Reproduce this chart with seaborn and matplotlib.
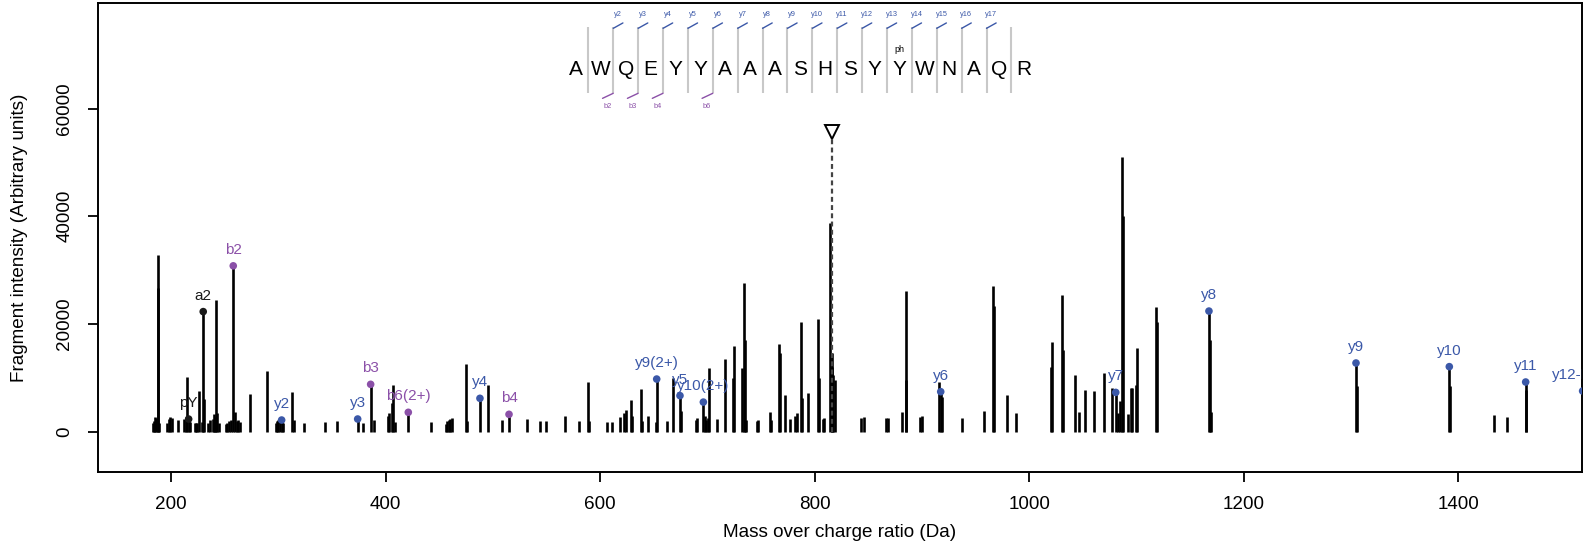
import matplotlib
matplotlib.use("Agg")
import matplotlib.pyplot as plt
import matplotlib.transforms as mtransforms
import numpy as np
import pandas as pd
import seaborn as sns

# ---------------- data ----------------
peak_mz = [182.8, 184.0, 185.2, 186.3, 187.4, 188.0, 189.0, 196.4, 197.8, 199.2, 200.7,
           206.6, 211.9, 213.5, 215.0, 217.5, 222.0, 223.2, 224.4, 225.8, 228.5, 230.9,
           234.0, 236.5, 239.0, 240.2, 241.0, 241.9, 243.2, 244.3, 251.0, 252.2, 253.5,
           255.5, 259.6, 261.0, 262.2, 264.5, 273.8, 289.0, 297.6, 298.8, 300.0, 301.2,
           304.5, 313.1, 314.3, 324.0, 343.4, 355.0, 379.1, 389.2, 402.5, 403.4, 405.6,
           407.1, 408.5, 441.9, 456.0, 457.5, 459.0, 460.3, 461.5, 474.9, 476.2, 495.1,
           508.2, 531.5, 543.9, 549.2, 567.2, 580.2, 588.3, 589.3, 606.0, 610.7, 618.5,
           622.5, 624.1, 628.4, 629.5, 638.1, 639.4, 644.3, 652.0, 662.0, 668.2, 675.5,
           689.0, 690.5, 697.5, 699.0, 700.2, 701.4, 709.2, 716.4, 723.5, 724.7, 731.9,
           734.1, 735.0, 736.0, 745.9, 747.2, 758.3, 759.2, 767.0, 767.8, 772.3, 777.0,
           781.6, 783.2, 787.2, 788.0, 794.0, 802.8, 803.6, 807.5, 808.7, 814.3, 815.8,
           816.6, 817.4, 818.9, 843.2, 846.0, 866.2, 868.7, 881.1, 884.8, 885.5, 898.2,
           900.3, 915.9, 918.4, 937.1, 957.9, 966.0, 966.8, 979.2, 987.4, 1020.6, 1021.2,
           1030.9, 1031.8, 1042.7, 1046.4, 1052.0, 1060.4, 1070.1, 1077.5, 1083.1, 1084.7,
           1086.2, 1087.0, 1092.5, 1094.6, 1095.5, 1099.5, 1100.8, 1118.2, 1119.0, 1168.4,
           1169.2, 1305.5, 1392.6, 1433.7, 1445.3, 1463.6]
peak_int = [1560, 2000, 2800, 2500, 32800, 26700, 1700, 1700, 2300, 2800, 2600,
            2200, 2450, 2800, 10200, 1800, 1600, 1700, 1700, 7600, 1800, 6100,
            1700, 2200, 2300, 3200, 2800, 24400, 3400, 1700, 1500, 1700, 2000,
            2200, 3700, 1900, 2100, 1800, 7000, 11300, 1700, 2000, 2200, 2300,
            1700, 7300, 2200, 1700, 1800, 2000, 1700, 2100, 2900, 3500, 5300,
            8700, 1800, 1750, 1500, 2000, 2200, 2400, 2500, 12500, 2000, 8700,
            2200, 2300, 2000, 2000, 3000, 2000, 9200, 2000, 1860, 1860, 2670,
            3400, 4000, 5900, 3000, 7900, 1900, 3000, 1800, 1900, 9900, 3900,
            2100, 2500, 3000, 2200, 2500, 11800, 2300, 13500, 10000, 15900, 11800,
            27600, 17000, 2200, 1900, 2200, 3600, 2200, 16200, 14600, 6800, 2400,
            3000, 3500, 20300, 6200, 7100, 20900, 9900, 2400, 2600, 38800, 14600,
            12000, 10500, 9600, 2600, 2800, 2600, 2600, 3700, 26200, 9600, 2800,
            3000, 9200, 6500, 2600, 3900, 27100, 23300, 6900, 3400, 12000, 16700,
            25400, 15200, 10500, 3700, 7700, 7600, 10900, 8200, 3400, 5700,
            51100, 40000, 3300, 8100, 8100, 8700, 15500, 23200, 20300, 17000,
            3700, 8400, 8400, 3100, 2800, 7700]

ion_label = ["pY", "a2", "b2", "y2", "y3", "b3", "b6(2+)", "y4", "b4", "y9(2+)", "y5",
             "y10(2+)", "y6", "y7", "y8", "y9", "y10", "y11", "y12-H2O"]
ion_mz = [216.3, 229.9, 257.9, 303.0, 373.9, 386.0, 421.1, 487.9, 515.0, 652.7, 674.4,
          696.2, 917.5, 1080.7, 1167.6, 1304.7, 1391.7, 1462.9, 1516.0]
ion_int = [2350, 22300, 30800, 2170, 2360, 8800, 3600, 6200, 3230, 9780, 6700,
           5500, 7430, 7300, 22400, 12760, 12080, 9230, 7560]
ion_kind = ["other", "other", "b", "y", "y", "b", "b", "y", "b", "y", "y",
            "y", "y", "y", "y", "y", "y", "y", "y"]

sequence = list("AWQEYYAAASHSYYWNAQR")
y_ion_sites = list(range(2, 18))       # separator index (after residue n)
b_ion_sites = [2, 3, 4, 6]
phospho_site = 13                       # 0-based residue index

precursor_mz = 816.0
precursor_int = 55650

x_ticks = [200, 400, 600, 800, 1000, 1200, 1400]
y_ticks = [0, 20000, 40000, 60000]

# ---------------- style ----------------
BLUE = "#3B58A8"
PURPLE = "#8B50A8"
palette = {"y": BLUE, "b": PURPLE, "other": "#1a1a1a"}

sns.set_theme(style="ticks")
plt.rcParams['font.family'] = ['Liberation Sans', 'DejaVu Sans']

fig = plt.figure(figsize=(15.91, 5.5), dpi=100)
ax = fig.add_axes([0.0614, 0.1425, 0.9328, 0.852])

# peaks
ax.vlines(peak_mz, 0, peak_int, color="black", lw=1.9)
ax.vlines(ion_mz, 0, ion_int, color="black", lw=1.9)

ions = pd.DataFrame({"mz": ion_mz, "intensity": ion_int, "kind": ion_kind, "label": ion_label})
sns.scatterplot(data=ions, x="mz", y="intensity", hue="kind", palette=palette,
                s=30, edgecolor="none", legend=False, ax=ax, zorder=3)
for _, r in ions.iterrows():
    ax.annotate(r["label"], (r["mz"], r["intensity"]), xytext=(0, 11.5),
                textcoords="offset points", ha="center", va="center",
                fontsize=11, color=palette[r["kind"]], annotation_clip=False,
                clip_on=True)

# precursor
ax.plot([precursor_mz, precursor_mz], [0, precursor_int - 1200], ls=(0, (2.2, 1.5)),
        color="#444444", lw=1.6, zorder=4)
ax.plot([precursor_mz], [precursor_int], marker="v", ms=10, mfc="white",
        mec="black", mew=1.4, zorder=5, clip_on=False)

# peptide annotation (data coordinates)
x0, step = 577.4, 23.2
y_letter, sep_top, sep_bot = 67300, 75100, 62840
for i, aa in enumerate(sequence):
    ax.text(x0 + i * step, y_letter, aa, ha="center", va="center", fontsize=15,
            color="black")
for k in range(1, len(sequence)):
    sx = x0 + (k - 0.5) * step
    ax.plot([sx, sx], [sep_top, sep_bot], color="#C8C8C8", lw=1.5, solid_capstyle="butt")
for k in y_ion_sites:
    sx = x0 + (k - 0.5) * step
    ax.plot([sx, sx + 9], [sep_top - 200, 75900], color=BLUE, lw=1.0)
    ax.text(sx + 4.5, 77500, f"y{k}", ha="center", va="center", fontsize=5.3, color=BLUE)
for k in b_ion_sites:
    sx = x0 + (k - 0.5) * step
    ax.plot([sx, sx - 10], [sep_bot, 61900], color=PURPLE, lw=1.0)
    ax.text(sx - 5.3, 60300, f"b{k}", ha="center", va="center", fontsize=5.3, color=PURPLE)
ax.text(x0 + phospho_site * step, 70900, "ph", ha="center", va="center", fontsize=6.5,
        color="black")

# axes
ax.set_xlim(131.5, 1515.2)
ax.set_ylim(-7410, 79600)
ax.set_xticks(x_ticks)
ax.set_yticks(y_ticks)
ax.tick_params(axis="both", direction="out", length=7, width=1.3, color="black",
               labelbottom=False, labelleft=False)
# tick labels placed explicitly (R-style spacing)
xt = mtransforms.blended_transform_factory(ax.transData, ax.transAxes)
for t in x_ticks:
    ax.text(t, -0.071, str(t), transform=xt, ha="center", va="center",
            fontsize=13.6, color="black", clip_on=False)
yt = mtransforms.blended_transform_factory(ax.transAxes, ax.transData)
for t in y_ticks:
    ax.text(-0.0222, t, str(t), transform=yt, ha="center", va="center", rotation=90,
            fontsize=13.6, color="black", clip_on=False)
for sp in ax.spines.values():
    sp.set_visible(True)
    sp.set_color("black")
    sp.set_linewidth(1.4)
ax.set_xlabel("Mass over charge ratio (Da)", fontsize=13.6, color="black")
ax.set_ylabel("Fragment intensity (Arbitrary units)", fontsize=13.6, color="black")
ax.xaxis.set_label_coords(0.5, -0.130)
ax.yaxis.set_label_coords(-0.0525, 0.5)
ax.xaxis.label.set_va("center")
ax.yaxis.label.set_va("center")
ax.set_facecolor("white")
fig.patch.set_facecolor("white")

fig.savefig("out.png", dpi=100)
